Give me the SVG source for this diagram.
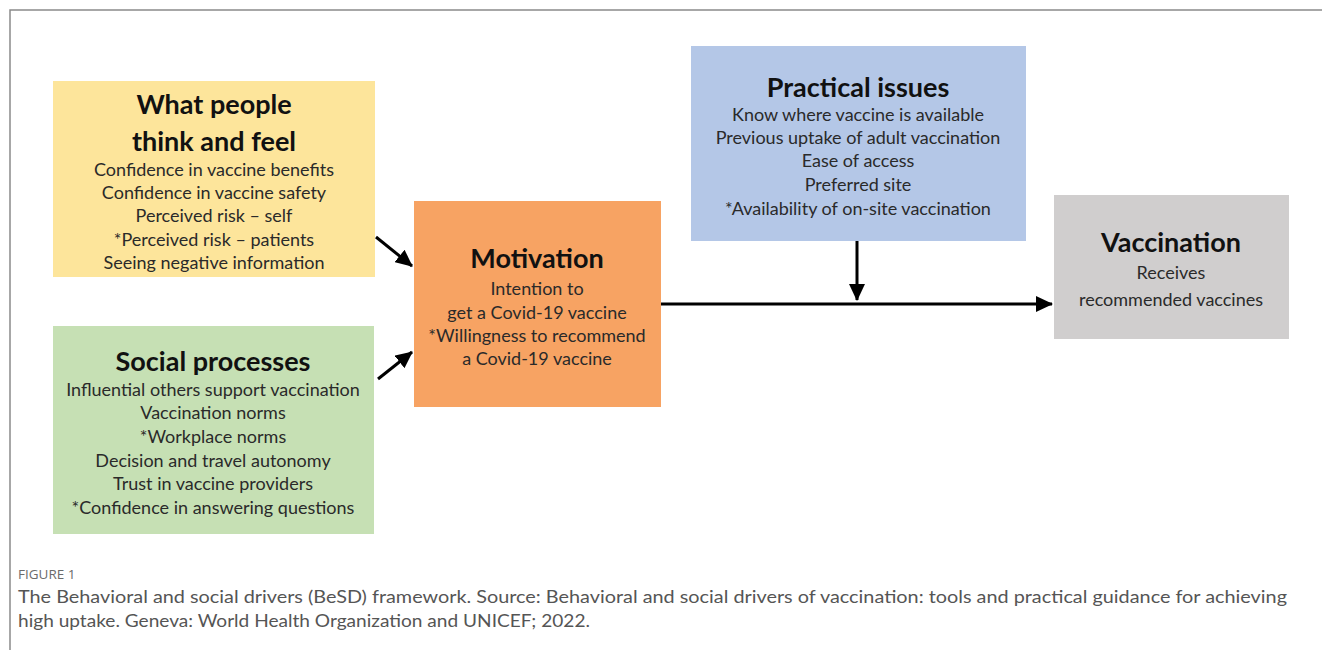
<svg xmlns="http://www.w3.org/2000/svg" width="1322" height="650" viewBox="0 0 1322 650">
  <defs>
    <style>
      .frame { fill: none; stroke: #8a8a8a; stroke-width: 1.5; }
      .box { stroke: none; }
      .title { font-family: Lato, "Open Sans", sans-serif; font-weight: 700; font-size: 27px; fill: #111; text-anchor: middle; }
      .body { font-family: Lato, "Open Sans", sans-serif; font-size: 18px; fill: #2a2a2a; text-anchor: middle; }
      .conn { stroke: #000; stroke-width: 3; fill: none; }
      .figlabel { font-family: "Open Sans", sans-serif; font-size: 13.5px; fill: #6b6b6b; }
      .caption { font-family: Lato, "Open Sans", sans-serif; font-size: 17px; fill: #555; }
    </style>
    <marker id="arrow" markerUnits="userSpaceOnUse" markerWidth="18" markerHeight="16" refX="16" refY="8" orient="auto">
      <path d="M0,0 L17,8 L0,16 Z" fill="#000"/>
    </marker>
  </defs>

  <rect width="1322" height="650" fill="#fff"/>
  <!-- figure frame: top and left rules -->
  <path class="frame" d="M10,650 L10,10 L1322,10"/>

  <!-- connectors -->
  <g id="connectors">
    <line class="conn" x1="376" y1="237" x2="412" y2="266" marker-end="url(#arrow)"/>
    <line class="conn" x1="378" y1="379" x2="412" y2="352" marker-end="url(#arrow)"/>
    <line class="conn" x1="661" y1="304" x2="1052" y2="304" marker-end="url(#arrow)"/>
    <line class="conn" x1="857" y1="241" x2="857" y2="300" marker-end="url(#arrow)"/>
  </g>

  <g id="think-feel">
    <rect class="box" x="53" y="81" width="322" height="196" fill="#fde59b"/>
    <text class="title" x="214" y="114">What people</text>
    <text class="title" x="214" y="151">think and feel</text>
    <text class="body" x="214" y="176">Confidence in vaccine benefits</text>
    <text class="body" x="214" y="199">Confidence in vaccine safety</text>
    <text class="body" x="214" y="222">Perceived risk – self</text>
    <text class="body" x="214" y="246">*Perceived risk – patients</text>
    <text class="body" x="214" y="269">Seeing negative information</text>
  </g>

  <g id="social">
    <rect class="box" x="53" y="326" width="321" height="208" fill="#c6e0b4"/>
    <text class="title" x="213" y="371">Social processes</text>
    <text class="body" x="213" y="396">Influential others support vaccination</text>
    <text class="body" x="213" y="419">Vaccination norms</text>
    <text class="body" x="213" y="443">*Workplace norms</text>
    <text class="body" x="213" y="467">Decision and travel autonomy</text>
    <text class="body" x="213" y="490">Trust in vaccine providers</text>
    <text class="body" x="213" y="514">*Confidence in answering questions</text>
  </g>

  <g id="motivation">
    <rect class="box" x="414" y="201" width="247" height="206" fill="#f7a363"/>
    <text class="title" x="537" y="268">Motivation</text>
    <text class="body" x="537" y="295">Intention to</text>
    <text class="body" x="537" y="319">get a Covid-19 vaccine</text>
    <text class="body" x="537" y="342">*Willingness to recommend</text>
    <text class="body" x="537" y="365">a Covid-19 vaccine</text>
  </g>

  <g id="practical">
    <rect class="box" x="691" y="46" width="335" height="195" fill="#b4c7e7"/>
    <text class="title" x="858" y="97">Practical issues</text>
    <text class="body" x="858" y="121">Know where vaccine is available</text>
    <text class="body" x="858" y="144">Previous uptake of adult vaccination</text>
    <text class="body" x="858" y="167">Ease of access</text>
    <text class="body" x="858" y="191">Preferred site</text>
    <text class="body" x="858" y="215">*Availability of on-site vaccination</text>
  </g>

  <g id="vaccination">
    <rect class="box" x="1054" y="195" width="235" height="144" fill="#d0cece"/>
    <text class="title" x="1171" y="252">Vaccination</text>
    <text class="body" x="1171" y="279">Receives</text>
    <text class="body" x="1171" y="306">recommended  vaccines</text>
  </g>

  <g id="caption">
    <text class="figlabel" x="18" y="579">FIGURE 1</text>
    <text class="caption" x="18" y="603" textLength="1269" lengthAdjust="spacingAndGlyphs">The Behavioral and social drivers (BeSD) framework. Source: Behavioral and social drivers of vaccination: tools and practical guidance for achieving</text>
    <text class="caption" x="18" y="627" textLength="572" lengthAdjust="spacingAndGlyphs">high uptake. Geneva: World Health Organization and UNICEF; 2022.</text>
  </g>
</svg>
